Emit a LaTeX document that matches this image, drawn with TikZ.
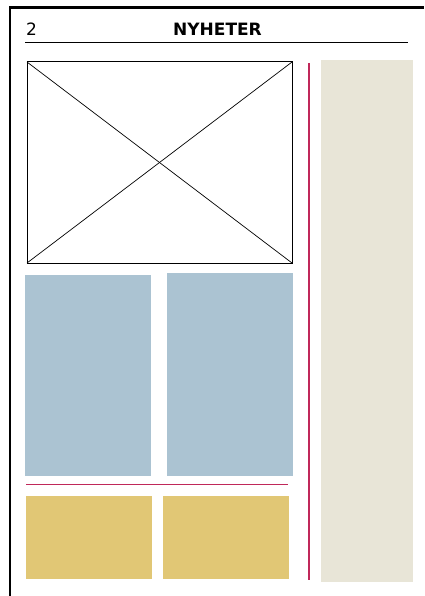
\documentclass[tikz,border=0pt]{standalone}
\usepackage{fontspec}
\setmainfont{DejaVu Sans}
\definecolor{photoblue}{HTML}{ABC3D2}
\definecolor{adyellow}{HTML}{E1C775}
\definecolor{sidebeige}{HTML}{E8E5D7}
\definecolor{rulered}{HTML}{C0285A}
\begin{document}
\begin{tikzpicture}[x=1pt,y=-1pt]
\useasboundingbox (0,0) rectangle (424,596);

% page edge
\draw[line width=2.5pt] (10,596) -- (10,7.5) -- (424,7.5);

% header
\node[anchor=base west,inner sep=0pt] (pagenum) at (26,36) {\fontsize{17}{18}\selectfont 2};
\node[anchor=base,inner sep=0pt] (section) at (217.5,36) {\fontsize{17}{18}\selectfont\bfseries NYHETER};
\draw[line width=1.2pt] (25,42.5) -- (408,42.5);

% main picture
\draw[line width=1pt] (27,62) rectangle (292,263);
\draw[line width=0.7pt] (27,62) -- (292,263);
\draw[line width=0.7pt] (27,263) -- (292,62);

% two photos
\fill[photoblue] (25,275) rectangle (151,476);
\fill[photoblue] (167,273) rectangle (293,476);

\draw[rulered,line width=1.4pt] (26,484.5) -- (288,484.5);

% ads
\fill[adyellow] (26,496) rectangle (152,579);
\fill[adyellow] (163,496) rectangle (289,579);

% column rule and sidebar
\draw[rulered,line width=1.4pt] (309,63) -- (309,580);
\fill[sidebeige] (321,60) rectangle (413,582);
\end{tikzpicture}
\end{document}
